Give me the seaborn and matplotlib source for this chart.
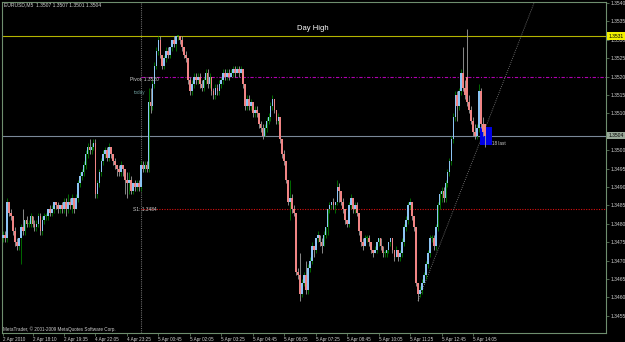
import matplotlib
matplotlib.use("Agg")
import matplotlib.pyplot as plt
import matplotlib.transforms as mtransforms
from matplotlib.patches import Rectangle
import seaborn as sns
import pandas as pd
import numpy as np

# ---------------- data (EURUSD M5 candles) ----------------
open_ = [1.3476,1.3477,1.3476,1.3486,1.3483,1.3482,1.3478,1.3475,1.3474,1.3476,
1.3479,1.3478,1.3481,1.3480,1.3480,1.3482,1.3480,1.3479,1.3480,1.3482,
1.3478,1.3481,1.3482,1.3482,1.3484,1.3483,1.3484,1.3486,1.3485,1.3484,
1.3485,1.3484,1.3486,1.3484,1.3486,1.3485,1.3487,1.3484,1.3487,1.3491,
1.3493,1.3494,1.3496,1.3499,1.3501,1.3500,1.3501,1.3502,1.3488,1.3491,
1.3494,1.3497,1.3499,1.3500,1.3498,1.3501,1.3499,1.3497,1.3496,1.3495,
1.3494,1.3496,1.3495,1.3492,1.3491,1.3492,1.3489,1.3491,1.3490,1.3491,
1.3490,1.3496,1.3495,1.3496,1.3495,1.3513,1.3512,1.3518,1.3523,1.3527,
1.3530,1.3526,1.3523,1.3525,1.3527,1.3526,1.3528,1.3530,1.3529,1.3531,
1.3531,1.3530,1.3528,1.3526,1.3525,1.3519,1.3516,1.3518,1.3520,1.3519,
1.3520,1.3518,1.3517,1.3519,1.3521,1.3518,1.3520,1.3516,1.3515,1.3517,
1.3516,1.3518,1.3519,1.3521,1.3520,1.3521,1.3520,1.3521,1.3522,1.3521,
1.3522,1.3521,1.3522,1.3518,1.3512,1.3514,1.3512,1.3513,1.3510,1.3511,
1.3510,1.3507,1.3506,1.3504,1.3506,1.3508,1.3509,1.3512,1.3514,1.3511,
1.3508,1.3509,1.3503,1.3499,1.3497,1.3492,1.3486,1.3487,1.3484,1.3483,
1.3467,1.3466,1.3461,1.3464,1.3466,1.3462,1.3468,1.3470,1.3474,1.3473,
1.3476,1.3477,1.3475,1.3474,1.3477,1.3479,1.3484,1.3485,1.3486,1.3485,
1.3486,1.3490,1.3489,1.3486,1.3484,1.3481,1.3480,1.3485,1.3487,1.3484,
1.3485,1.3483,1.3478,1.3475,1.3474,1.3476,1.3476,1.3475,1.3473,1.3472,
1.3473,1.3475,1.3476,1.3474,1.3472,1.3472,1.3473,1.3475,1.3476,1.3473,
1.3471,1.3473,1.3471,1.3472,1.3475,1.3479,1.3481,1.3485,1.3486,1.3482,
1.3479,1.3464,1.3461,1.3462,1.3464,1.3466,1.3469,1.3472,1.3476,1.3476,
1.3474,1.3479,1.3485,1.3488,1.3489,1.3487,1.3491,1.3494,1.3497,1.3503,
1.3509,1.3515,1.3512,1.3516,1.3521,1.3517,1.3520,1.3513,1.3511,1.3508,
1.3505,1.3504,1.3506,1.3516,1.3507,1.3507]

high = [1.3478,1.3478,1.3487,1.3486,1.3484,1.3482,1.3479,1.3476,1.3476,1.3480,
1.3484,1.3481,1.3482,1.3481,1.3483,1.3482,1.3481,1.3481,1.3483,1.3483,
1.3482,1.3483,1.3483,1.3484,1.3485,1.3485,1.3486,1.3486,1.3486,1.3485,
1.3486,1.3487,1.3487,1.3488,1.3487,1.3488,1.3487,1.3488,1.3492,1.3494,
1.3495,1.3497,1.3500,1.3502,1.3503,1.3502,1.3503,1.3503,1.3492,1.3495,
1.3498,1.3500,1.3501,1.3501,1.3502,1.3501,1.3499,1.3498,1.3496,1.3496,
1.3497,1.3496,1.3495,1.3494,1.3494,1.3493,1.3491,1.3492,1.3492,1.3492,
1.3497,1.3497,1.3497,1.3497,1.3517,1.3517,1.3519,1.3524,1.3528,1.3531,
1.3531,1.3526,1.3526,1.3528,1.3528,1.3528,1.3530,1.3531,1.3531,1.3531,
1.3531,1.3531,1.3528,1.3527,1.3525,1.3520,1.3519,1.3521,1.3521,1.3521,
1.3521,1.3519,1.3520,1.3522,1.3522,1.3521,1.3520,1.3517,1.3518,1.3518,
1.3519,1.3520,1.3522,1.3522,1.3522,1.3522,1.3522,1.3523,1.3523,1.3523,
1.3523,1.3523,1.3522,1.3518,1.3515,1.3515,1.3514,1.3513,1.3512,1.3512,
1.3510,1.3508,1.3507,1.3507,1.3509,1.3510,1.3513,1.3515,1.3514,1.3511,
1.3510,1.3509,1.3503,1.3500,1.3497,1.3492,1.3492,1.3488,1.3485,1.3483,
1.3468,1.3472,1.3465,1.3467,1.3470,1.3469,1.3471,1.3475,1.3474,1.3476,
1.3478,1.3477,1.3476,1.3478,1.3479,1.3484,1.3486,1.3486,1.3487,1.3486,
1.3492,1.3491,1.3489,1.3487,1.3484,1.3481,1.3486,1.3488,1.3487,1.3486,
1.3486,1.3483,1.3478,1.3476,1.3477,1.3477,1.3477,1.3475,1.3473,1.3474,
1.3475,1.3476,1.3476,1.3474,1.3473,1.3473,1.3475,1.3476,1.3476,1.3473,
1.3474,1.3473,1.3473,1.3476,1.3480,1.3482,1.3486,1.3487,1.3486,1.3482,
1.3479,1.3464,1.3463,1.3465,1.3467,1.3470,1.3473,1.3477,1.3477,1.3477,
1.3480,1.3486,1.3489,1.3490,1.3490,1.3492,1.3495,1.3498,1.3504,1.3510,
1.3516,1.3516,1.3517,1.3522,1.3528,1.3519,1.3533,1.3515,1.3512,1.3509,
1.3507,1.3507,1.3518,1.3517,1.3509,1.3507]

low = [1.3475,1.3475,1.3475,1.3482,1.3481,1.3477,1.3474,1.3473,1.3473,1.3469,
1.3477,1.3477,1.3479,1.3479,1.3479,1.3479,1.3478,1.3478,1.3479,1.3477,
1.3477,1.3480,1.3481,1.3481,1.3482,1.3482,1.3483,1.3484,1.3483,1.3483,
1.3483,1.3483,1.3482,1.3483,1.3484,1.3483,1.3483,1.3484,1.3486,1.3490,
1.3492,1.3493,1.3495,1.3498,1.3499,1.3499,1.3500,1.3487,1.3487,1.3490,
1.3493,1.3496,1.3498,1.3497,1.3497,1.3498,1.3496,1.3495,1.3493,1.3493,
1.3493,1.3493,1.3488,1.3487,1.3488,1.3488,1.3488,1.3489,1.3489,1.3489,
1.3489,1.3494,1.3494,1.3494,1.3494,1.3510,1.3511,1.3517,1.3522,1.3526,
1.3525,1.3522,1.3522,1.3524,1.3525,1.3525,1.3527,1.3528,1.3527,1.3530,
1.3529,1.3527,1.3525,1.3524,1.3518,1.3515,1.3515,1.3517,1.3518,1.3518,
1.3517,1.3516,1.3516,1.3518,1.3517,1.3517,1.3515,1.3514,1.3514,1.3515,
1.3515,1.3517,1.3518,1.3519,1.3519,1.3519,1.3520,1.3520,1.3520,1.3521,
1.3520,1.3521,1.3517,1.3511,1.3511,1.3511,1.3511,1.3509,1.3509,1.3509,
1.3506,1.3505,1.3503,1.3504,1.3505,1.3507,1.3508,1.3511,1.3510,1.3507,
1.3507,1.3502,1.3498,1.3496,1.3491,1.3485,1.3481,1.3483,1.3482,1.3466,
1.3465,1.3459,1.3460,1.3463,1.3461,1.3461,1.3467,1.3469,1.3471,1.3472,
1.3475,1.3474,1.3472,1.3474,1.3476,1.3477,1.3483,1.3484,1.3484,1.3483,
1.3485,1.3486,1.3485,1.3483,1.3480,1.3479,1.3479,1.3484,1.3483,1.3483,
1.3482,1.3477,1.3474,1.3473,1.3474,1.3475,1.3474,1.3472,1.3471,1.3472,
1.3472,1.3474,1.3473,1.3471,1.3471,1.3471,1.3472,1.3474,1.3472,1.3470,
1.3471,1.3470,1.3470,1.3471,1.3474,1.3478,1.3480,1.3484,1.3481,1.3478,
1.3463,1.3459,1.3460,1.3461,1.3464,1.3465,1.3468,1.3471,1.3475,1.3473,
1.3473,1.3478,1.3484,1.3486,1.3486,1.3486,1.3490,1.3493,1.3496,1.3502,
1.3508,1.3508,1.3511,1.3515,1.3516,1.3514,1.3512,1.3510,1.3507,1.3504,
1.3503,1.3503,1.3505,1.3506,1.3504,1.3501]

close = [1.3477,1.3476,1.3486,1.3483,1.3482,1.3478,1.3475,1.3474,1.3476,1.3479,
1.3478,1.3481,1.3480,1.3480,1.3482,1.3480,1.3479,1.3480,1.3482,1.3478,
1.3481,1.3482,1.3482,1.3484,1.3483,1.3484,1.3486,1.3485,1.3484,1.3485,
1.3484,1.3486,1.3484,1.3486,1.3485,1.3487,1.3484,1.3487,1.3491,1.3493,
1.3494,1.3496,1.3499,1.3501,1.3500,1.3501,1.3502,1.3488,1.3491,1.3494,
1.3497,1.3499,1.3500,1.3498,1.3501,1.3499,1.3497,1.3496,1.3495,1.3494,
1.3496,1.3495,1.3492,1.3491,1.3492,1.3489,1.3491,1.3490,1.3491,1.3490,
1.3496,1.3495,1.3496,1.3495,1.3513,1.3512,1.3518,1.3523,1.3527,1.3530,
1.3526,1.3523,1.3525,1.3527,1.3526,1.3528,1.3530,1.3529,1.3531,1.3531,
1.3530,1.3528,1.3526,1.3525,1.3519,1.3516,1.3518,1.3520,1.3519,1.3520,
1.3518,1.3517,1.3519,1.3521,1.3518,1.3520,1.3516,1.3515,1.3517,1.3516,
1.3518,1.3519,1.3521,1.3520,1.3521,1.3520,1.3521,1.3522,1.3521,1.3522,
1.3521,1.3522,1.3518,1.3512,1.3514,1.3512,1.3513,1.3510,1.3511,1.3510,
1.3507,1.3506,1.3504,1.3506,1.3508,1.3509,1.3512,1.3514,1.3511,1.3508,
1.3509,1.3503,1.3499,1.3497,1.3492,1.3486,1.3487,1.3484,1.3483,1.3467,
1.3466,1.3461,1.3464,1.3466,1.3462,1.3468,1.3470,1.3474,1.3473,1.3476,
1.3477,1.3475,1.3474,1.3477,1.3479,1.3484,1.3485,1.3486,1.3485,1.3486,
1.3490,1.3489,1.3486,1.3484,1.3481,1.3480,1.3485,1.3487,1.3484,1.3485,
1.3483,1.3478,1.3475,1.3474,1.3476,1.3476,1.3475,1.3473,1.3472,1.3473,
1.3475,1.3476,1.3474,1.3472,1.3472,1.3473,1.3475,1.3476,1.3473,1.3471,
1.3473,1.3471,1.3472,1.3475,1.3479,1.3481,1.3485,1.3486,1.3482,1.3479,
1.3464,1.3461,1.3462,1.3464,1.3466,1.3469,1.3472,1.3476,1.3476,1.3474,
1.3479,1.3485,1.3488,1.3489,1.3487,1.3491,1.3494,1.3497,1.3503,1.3509,
1.3515,1.3512,1.3516,1.3521,1.3517,1.3515,1.3513,1.3511,1.3508,1.3505,
1.3504,1.3506,1.3516,1.3507,1.3505,1.3504]

time_labels = ["2 Apr 2010", "2 Apr 18:10", "2 Apr 19:35", "4 Apr 22:05",
               "4 Apr 23:25", "5 Apr 00:45", "5 Apr 02:05", "5 Apr 03:25",
               "5 Apr 04:45", "5 Apr 06:05", "5 Apr 07:25", "5 Apr 08:45",
               "5 Apr 10:05", "5 Apr 11:25", "5 Apr 12:45", "5 Apr 14:05"]
time_label_bars = [0, 15, 31, 47, 63, 79, 95, 111, 127, 143, 159, 175, 191, 207, 223, 239]
price_ticks = [1.3455, 1.3460, 1.3465, 1.3470, 1.3475, 1.3480, 1.3485, 1.3490,
               1.3495, 1.3500, 1.3505, 1.3510, 1.3515, 1.3520, 1.3525, 1.3530,
               1.3535, 1.3540]

day_high = 1.3531
pivot = 1.3520
s1 = 1.3484
bid = 1.3504
day_start_bar = 70
trend_bars = [211, 270]
trend_prices = [1.3459, 1.3540]
header = "EURUSD,M5  1.3507 1.3507 1.3501 1.3504"

# ---------------- style ----------------
BG = "#000000"
FRAME = "#6E8E6E"
TXT = "#D0D0D0"
BULL_BODY = "#8CC4F4"
BEAR_BODY = "#F08484"
BULL_WICK = "#007A00"
BEAR_WICK = "#A0A0A0"

sns.set_theme(style="dark", rc={"axes.facecolor": BG, "figure.facecolor": BG,
                                "savefig.facecolor": BG, "axes.edgecolor": FRAME,
                                "axes.grid": False})
plt.rcParams["font.family"] = ["Liberation Sans", "DejaVu Sans"]

df = pd.DataFrame({"bar": np.arange(len(open_)), "open": open_, "high": high,
                   "low": low, "close": close})
diff = (df["close"] - df["open"]).round(6)
df["kind"] = np.where(diff > 0, "up", np.where(diff < 0, "down", "doji"))

fig = plt.figure(figsize=(6.25, 3.42), dpi=100)
ax = fig.add_axes([2 / 625, 9 / 342, 604 / 625, 331 / 342])
ax.set_facecolor(BG)
XMAX = 306.6
ax.set_xlim(-0.51, XMAX)
ax.set_ylim(1.34503, 1.35403)

# reference lines
ax.axvline(day_start_bar, color="#6A6A6A", lw=0.8, ls=(0, (1, 1)), zorder=1)
ax.axhline(day_high, color="#B4B400", lw=0.8, zorder=1)
ax.axhline(bid, color="#7A8898", lw=0.8, zorder=1)
ax.hlines(pivot, day_start_bar, XMAX, color="#B000B0", lw=0.8,
          linestyles=[(0, (3, 1.5, 1, 1.5))], zorder=1)
ax.hlines(s1, day_start_bar, XMAX, color="#D81010", lw=0.8,
          linestyles=[(0, (1, 1.3))], zorder=1)

# blue box near last bars
ax.add_patch(Rectangle((242.5, 1.35014), 6.1, 0.00049, fc="#0000E6", ec="none", zorder=1.5))

# trend line
sns.lineplot(x=trend_bars, y=trend_prices, ax=ax, color="#8A8A8A", lw=0.6,
             linestyle=(0, (1, 1.6)), zorder=1.2)

# candles
wick_col = df["kind"].map({"up": BULL_WICK, "down": BEAR_WICK, "doji": BULL_WICK})
ax.vlines(df["bar"], df["low"], df["high"], colors=wick_col, lw=0.6, zorder=2)
body_col = df["kind"].map({"up": BULL_BODY, "down": BEAR_BODY, "doji": BULL_WICK})
bottom = np.minimum(df["open"], df["close"])
height = np.maximum((df["close"] - df["open"]).abs(), 0.00003)
ax.bar(df["bar"], height, bottom=bottom, width=0.85, color=body_col, linewidth=0, zorder=3)

# axes styling
for s in ax.spines.values():
    s.set_color(FRAME)
    s.set_linewidth(0.8)
ax.yaxis.tick_right()
ax.set_yticks(price_ticks)
# the 1.3505 label sits under the bid-price box, as in the original
ax.set_yticklabels(["" if abs(p - 1.3505) < 1e-6 else f"{p:.4f}" for p in price_ticks])
ax.set_xticks(time_label_bars)
ax.set_xticklabels(time_labels)
ax.tick_params(axis="y", right=True, left=False, length=2, width=0.5, color=FRAME,
               labelcolor=TXT, labelsize=3.6, pad=1.2, direction="out")
ax.tick_params(axis="x", bottom=True, length=2, width=0.5, color=FRAME,
               labelcolor=TXT, labelsize=3.3, pad=0.8, direction="out")
for lbl in ax.get_xticklabels():
    lbl.set_ha("left")
ax.set_xlabel("")
ax.set_ylabel("")
ax.grid(False)

# right-axis price boxes
trans = mtransforms.blended_transform_factory(ax.transAxes, ax.transData)
ax.text(1.004, day_high, f"{day_high:.4f}", transform=trans, fontsize=3.6, color="black",
        va="center", ha="left", clip_on=False, zorder=10,
        bbox=dict(boxstyle="square,pad=0.25", fc="#F0F000", ec="none"))
ax.text(1.004, bid, f"{bid:.4f}", transform=trans, fontsize=3.6, color="black",
        va="center", ha="left", clip_on=False, zorder=10,
        bbox=dict(boxstyle="square,pad=0.25", fc="#98A898", ec="none"))

# annotations
ax.text(157.6, 1.35332, "Day High", color="white", fontsize=5.5, ha="center", va="center")
ax.text(64.6, 1.35193, f"Pivot: {pivot:.4f}", color=TXT, fontsize=3.5, ha="left", va="center")
ax.text(66.6, 1.35157, "today", color="#6FA0A0", fontsize=3.3, ha="left", va="center")
ax.text(66.1, 1.34840, f"S1: {s1:.4f}", color=TXT, fontsize=3.5, ha="left", va="center")
ax.text(248.6, 1.35017, "18 last", color=TXT, fontsize=3.3, ha="left", va="center")

fig.text(4 / 625, 1 - 5 / 342, header, color=TXT, fontsize=3.6, ha="left", va="center")
fig.text(3 / 625, 1 - 329 / 342, "MetaTrader, \u00a9 2001-2009 MetaQuotes Software Corp.",
         color=TXT, fontsize=3.3, ha="left", va="center")

fig.savefig("out.png", dpi=100, facecolor=BG)
